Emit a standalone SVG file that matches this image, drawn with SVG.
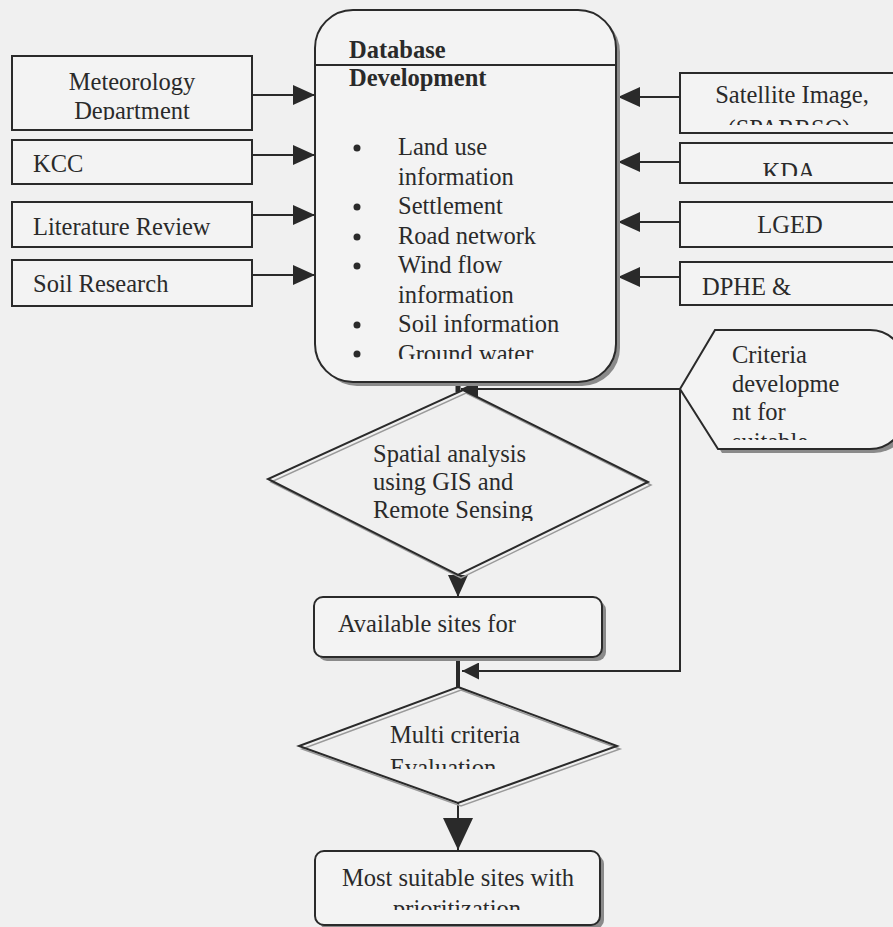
<svg xmlns="http://www.w3.org/2000/svg" width="893" height="927" viewBox="0 0 893 927">
<style>
.t{font-family:"Liberation Serif","Times New Roman",serif;font-size:24.5px;fill:#2a2a2a}
.b{font-weight:bold}
.m{text-anchor:middle}
.box{fill:#f3f3f3;stroke:#2a2a2a;stroke-width:2}
.sh{fill:#8a8a8a;stroke:none}
.dia{fill:none;stroke:#2a2a2a;stroke-width:2}
.dsh{fill:none;stroke:#9a9a9a;stroke-width:1.5}
.c{fill:none;stroke:#2a2a2a;stroke-width:2}
</style>
<defs>
<marker id="ah" markerUnits="userSpaceOnUse" markerWidth="22" markerHeight="20" refX="22" refY="10" orient="auto">
<path d="M0,0 L22,10 L0,20 Z" fill="#2a2a2a"/>
</marker>
<marker id="ahs" markerUnits="userSpaceOnUse" markerWidth="17" markerHeight="17" refX="17" refY="8.5" orient="auto">
<path d="M0,0 L17,8.5 L0,17 Z" fill="#2a2a2a"/>
</marker>
<marker id="ahb" markerUnits="userSpaceOnUse" markerWidth="32" markerHeight="30" refX="32" refY="15" orient="auto">
<path d="M0,0 L32,15 L0,30 Z" fill="#2a2a2a"/>
</marker>
<clipPath id="cDept"><rect x="0" y="0" width="893" height="120"/></clipPath>
<clipPath id="cDB"><rect x="0" y="0" width="893" height="359"/></clipPath>
<clipPath id="cSat"><rect x="0" y="0" width="893" height="125"/></clipPath>
<clipPath id="cKDA"><rect x="0" y="0" width="893" height="176"/></clipPath>
<clipPath id="cCrit"><rect x="0" y="0" width="893" height="440"/></clipPath>
<clipPath id="cSpat"><rect x="0" y="0" width="893" height="521"/></clipPath>
<clipPath id="cEval"><rect x="0" y="0" width="893" height="769"/></clipPath>
<clipPath id="cPrio"><rect x="0" y="0" width="893" height="910"/></clipPath>
</defs>
<rect x="0" y="0" width="893" height="927" fill="#f0f0f0"/>

<g id="connectors">
<line class="c" x1="252" y1="95" x2="315" y2="95" marker-end="url(#ah)"/>
<line class="c" x1="252" y1="155" x2="315" y2="155" marker-end="url(#ah)"/>
<line class="c" x1="252" y1="215" x2="315" y2="215" marker-end="url(#ah)"/>
<line class="c" x1="252" y1="275" x2="315" y2="275" marker-end="url(#ah)"/>
<line class="c" x1="680" y1="97" x2="618" y2="97" marker-end="url(#ah)"/>
<line class="c" x1="680" y1="162" x2="618" y2="162" marker-end="url(#ah)"/>
<line class="c" x1="680" y1="222" x2="618" y2="222" marker-end="url(#ah)"/>
<line class="c" x1="680" y1="277" x2="618" y2="277" marker-end="url(#ah)"/>
<line x1="458" y1="373" x2="458" y2="392" stroke="#2a2a2a" stroke-width="5"/>
<polyline class="c" points="680,389 680,671 462,671" marker-end="url(#ahs)"/>
<line class="c" x1="680" y1="389" x2="461" y2="389" marker-end="url(#ahs)"/>
<line class="c" x1="458" y1="575" x2="458" y2="597" marker-end="url(#ah)"/>
<line x1="458" y1="657" x2="458" y2="687" stroke="#2a2a2a" stroke-width="4"/>
<line class="c" x1="458" y1="803" x2="458" y2="850" marker-end="url(#ahb)"/>
</g>

<g id="meteorology">
<rect class="box" x="12" y="56" width="240" height="74"/>
<g clip-path="url(#cDept)">
<text class="t m" x="132" y="90">Meteorology</text>
<text class="t m" x="132" y="119">Department</text>
</g>
</g>
<g id="kcc">
<rect class="box" x="12" y="140" width="240" height="44"/>
<text class="t" x="33" y="172">KCC</text>
</g>
<g id="literature">
<rect class="box" x="12" y="202" width="240" height="45"/>
<text class="t" x="33" y="235">Literature Review</text>
</g>
<g id="soil">
<rect class="box" x="12" y="260" width="240" height="46"/>
<text class="t" x="33" y="292">Soil Research</text>
</g>

<g id="database">
<rect class="sh" x="319" y="14" width="301" height="372" rx="38"/>
<rect class="box" x="315" y="10" width="301" height="372" rx="38"/>
<line x1="315" y1="65" x2="616" y2="65" stroke="#2a2a2a" stroke-width="2"/>
<text class="t b" x="349" y="58">Database</text>
<text class="t b" x="349" y="86">Development</text>
<g clip-path="url(#cDB)">
<g fill="#2a2a2a">
<circle cx="357" cy="148" r="3.5"/>
<circle cx="357" cy="207" r="3.5"/>
<circle cx="357" cy="237" r="3.5"/>
<circle cx="357" cy="266" r="3.5"/>
<circle cx="357" cy="325" r="3.5"/>
<circle cx="357" cy="354" r="3.5"/>
</g>
<text class="t" x="398" y="155">Land use</text>
<text class="t" x="398" y="185">information</text>
<text class="t" x="398" y="214">Settlement</text>
<text class="t" x="398" y="244">Road network</text>
<text class="t" x="398" y="273">Wind flow</text>
<text class="t" x="398" y="303">information</text>
<text class="t" x="398" y="332">Soil information</text>
<text class="t" x="398" y="362">Ground water</text>
</g>
</g>

<g id="satellite">
<rect class="box" x="680" y="73" width="220" height="60"/>
<g clip-path="url(#cSat)">
<text class="t m" x="792" y="103">Satellite Image,</text>
<text class="t m" x="789" y="137">(SPARRSO)</text>
</g>
</g>
<g id="kda">
<rect class="box" x="680" y="143" width="220" height="40"/>
<g clip-path="url(#cKDA)">
<text class="t m" x="789" y="180">KDA</text>
</g>
</g>
<g id="lged">
<rect class="box" x="680" y="202" width="220" height="45"/>
<text class="t m" x="790" y="233">LGED</text>
</g>
<g id="dphe">
<rect class="box" x="680" y="262" width="220" height="43"/>
<text class="t" x="702" y="295">DPHE &amp;</text>
</g>

<g id="criteria">
<path class="sh" d="M684,393 L719,334 L874,334 A35,35 0 0 1 909,369 L909,418 A35,35 0 0 1 874,453 L722,453 Z"/>
<path class="box" d="M680,389 L715,330 L870,330 A35,35 0 0 1 905,365 L905,414 A35,35 0 0 1 870,449 L718,449 Z"/>
<g clip-path="url(#cCrit)">
<text class="t" x="732" y="363">Criteria</text>
<text class="t" x="732" y="392">developme</text>
<text class="t" x="732" y="420">nt for</text>
<text class="t" x="732" y="450">suitable</text>
</g>
</g>

<g id="spatial">
<polygon class="dsh" points="466,393 651,485 461,578 271,482"/>
<polygon class="dia" points="463,390 648,482 458,575 268,479"/>
<g clip-path="url(#cSpat)">
<text class="t" x="373" y="462">Spatial analysis</text>
<text class="t" x="373" y="490">using GIS and</text>
<text class="t" x="373" y="518">Remote Sensing</text>
</g>
</g>

<g id="available">
<rect class="sh" x="318" y="601" width="288" height="60" rx="9"/>
<rect class="box" x="314" y="597" width="288" height="60" rx="9"/>
<text class="t" x="338" y="632">Available sites for</text>
</g>

<g id="multicriteria">
<polygon class="dsh" points="461,690 620,749 461,806 302,749"/>
<polygon class="dia" points="458,687 617,746 458,803 299,746"/>
<g clip-path="url(#cEval)">
<text class="t" x="390" y="743">Multi criteria</text>
<text class="t" x="390" y="776">Evaluation</text>
</g>
</g>

<g id="mostsuitable">
<rect class="sh" x="319" y="855" width="285" height="74" rx="9"/>
<rect class="box" x="315" y="851" width="285" height="74" rx="9"/>
<text class="t" x="342" y="886">Most suitable sites with</text>
<g clip-path="url(#cPrio)">
<text class="t m" x="457" y="917">prioritization</text>
</g>
</g>
</svg>
